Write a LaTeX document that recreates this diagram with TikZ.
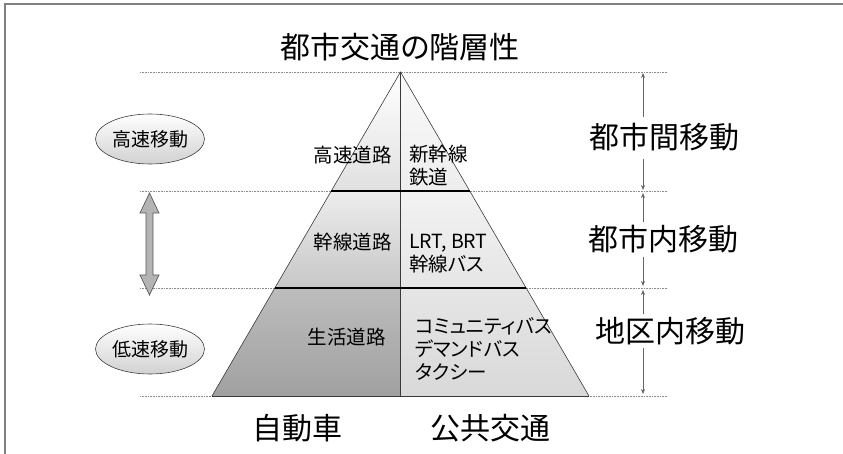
\documentclass[tikz,border=0pt]{standalone}
\usepackage{fontspec}
\setmainfont{Noto Sans CJK JP}[RawFeature={+palt}]
\usetikzlibrary{shapes.geometric,calc,arrows.meta}
\definecolor{framegray}{HTML}{808080}
\definecolor{edgegray}{HTML}{3A3A3A}
\definecolor{arrowfill}{HTML}{B4B4B4}
\begin{document}
\begin{tikzpicture}[x=1pt,y=-1pt,
  big/.style={font=\fontsize{30}{36}\selectfont, inner sep=0pt},
  lab/.style={font=\fontsize{19.5}{23}\selectfont, inner sep=0pt, align=left},
  dotline/.style={draw=black!45, line width=0.6pt, dash pattern=on 0.8pt off 0.8pt},
  dimarrow/.style={draw=black!60, line width=0.6pt, -{Stealth[length=5pt,width=4pt]}},
  oval/.style={ellipse, draw=black!75, line width=0.6pt, top color=white, middle color=white, bottom color=black!18,
    minimum width=109pt, minimum height=50pt, inner sep=0pt, font=\fontsize{19}{23}\selectfont},
  edge/.style={draw=edgegray, line width=0.6pt},
  level/.style={draw=black, line width=1.1pt}
]
\useasboundingbox (0,0) rectangle (843,454);
% frame
\draw[framegray, line width=2pt] (3.5,4.5) -- (843,4.5);
\draw[framegray, line width=2pt] (4.5,3.5) -- (4.5,454);

% pyramid coordinates
\coordinate (A) at (400.5,72);
\coordinate (BL) at (212,396);
\coordinate (BR) at (589,396);
\coordinate (BC) at (400.5,396);
\coordinate (L1l) at ($(A)!0.3673!(BL)$);
\coordinate (L1r) at ($(A)!0.3673!(BR)$);
\coordinate (L1c) at (400.5,191);
\coordinate (L2l) at ($(A)!0.6667!(BL)$);
\coordinate (L2r) at ($(A)!0.6667!(BR)$);
\coordinate (L2c) at (400.5,288);

% fills
\shade[top color=white, bottom color=black!12] (A) -- (L1l) -- (L1c) -- cycle;
\shade[top color=black!2, bottom color=black!7] (A) -- (L1c) -- (L1r) -- cycle;
\shade[top color=black!7, bottom color=black!22] (L1l) -- (L2l) -- (L2c) -- (L1c) -- cycle;
\shade[top color=black!5, bottom color=black!10] (L1c) -- (L2c) -- (L2r) -- (L1r) -- cycle;
\shade[top color=black!26, bottom color=black!37] (L2l) -- (BL) -- (BC) -- (L2c) -- cycle;
\shade[top color=black!10, bottom color=black!15] (L2c) -- (BC) -- (BR) -- (L2r) -- cycle;

% dotted guide lines
\foreach \yy in {72,191,288,396} \draw[dotline] (140,\yy) -- (667,\yy);

% pyramid lines
\draw[edge] (BL) -- (A) -- (BR);
\draw[edge] (BL) -- (BR);
\draw[draw=edgegray, line width=1pt] (A) -- (BC);
\draw[level] (L1l) -- (L1r);
\draw[level] (L2l) -- (L2r);

% title
\node[big] (title) at (400,47) {都市交通の階層性};

% inner labels
\node[lab, anchor=east] (hw) at (392,155) {高速道路};
\node[lab, anchor=west] (shk) at (409,166) {新幹線\\鉄道};
\node[lab, anchor=east] (kd) at (392,242) {幹線道路};
\node[lab, anchor=west] (lrt) at (409,254) {LRT, BRT\\幹線バス};
\node[lab, anchor=east] (sd) at (386,337) {生活道路};
\node[lab, anchor=west] (cb) at (415,349) {コミュニティバス\\デマンドバス\\タクシー};

% bottom labels
\node[big] (car) at (297,428) {自動車};
\node[big] (pt) at (490,428) {公共交通};

% right labels
\node[big] (r1) at (664,137) {都市間移動};
\node[big] (r2) at (663,239) {都市内移動};
\node[big] (r3) at (670,331) {地区内移動};

% dimension arrows
\coordinate (d1a) at (643,117); \coordinate (d1t) at (643,73);
\coordinate (d1b) at (643,159); \coordinate (d1e) at (643,190);
\coordinate (d2a) at (643,222); \coordinate (d2t) at (643,193);
\coordinate (d2b) at (643,257); \coordinate (d2e) at (643,286);
\coordinate (d3a) at (643,314); \coordinate (d3t) at (643,290);
\coordinate (d3b) at (643,348); \coordinate (d3e) at (643,394);
\draw[dimarrow] (d1a) -- (d1t);
\draw[dimarrow] (d1b) -- (d1e);
\draw[dimarrow] (d2a) -- (d2t);
\draw[dimarrow] (d2b) -- (d2e);
\draw[dimarrow] (d3a) -- (d3t);
\draw[dimarrow] (d3b) -- (d3e);

% ovals
\node[oval] (fast) at (150,139) {高速移動};
\node[oval] (slow) at (150,349) {低速移動};

% gray double arrow
\filldraw[fill=arrowfill, draw=black!65, line width=0.7pt]
  (149.5,193) -- (159,213) -- (153,213) -- (153,275) -- (159,275) -- (149.5,295)
  -- (140,275) -- (146,275) -- (146,213) -- (140,213) -- cycle;
\end{tikzpicture}
\end{document}
